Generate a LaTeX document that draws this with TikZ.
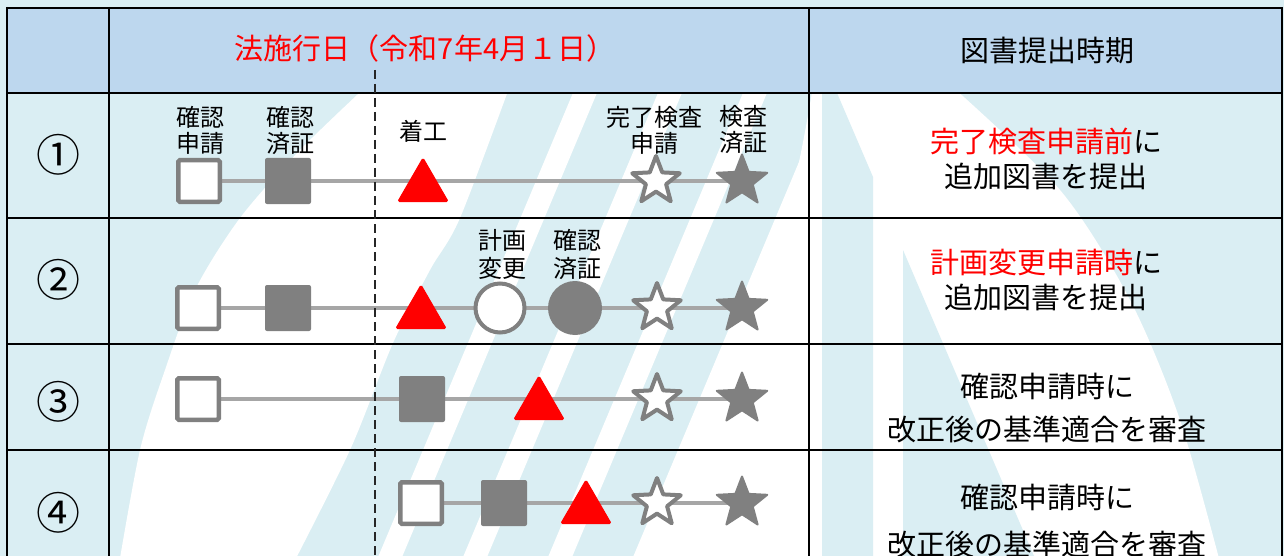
\documentclass[tikz,border=0pt]{standalone}
\usepackage{fontspec}
\setmainfont{Noto Sans CJK JP}
\usetikzlibrary{shapes.geometric}
\definecolor{wmblue}{HTML}{DAEEF3}
\definecolor{hdrblue}{HTML}{BDD7EE}
\definecolor{mk}{HTML}{808080}
\definecolor{ln}{HTML}{A6A6A6}
\pgfdeclarelayer{wm}
\pgfdeclarelayer{conn}
\pgfsetlayers{wm,conn,main}
\begin{document}
\begin{tikzpicture}[x=1pt,y=-1pt,
  osq/.style={rectangle, draw=mk, fill=white, line width=4.5pt, minimum size=41.5pt, inner sep=0pt, rounded corners=1.5pt},
  fsq/.style={rectangle, fill=mk, minimum size=46pt, inner sep=0pt, rounded corners=2pt},
  tri/.style={regular polygon, regular polygon sides=3, fill=red, draw=red, line width=1pt, line join=round, minimum size=58pt, inner sep=0pt, rounded corners=1.5pt},
  ocirc/.style={circle, draw=mk, fill=white, line width=4pt, minimum size=49pt, inner sep=0pt},
  fcirc/.style={circle, fill=mk, minimum size=54pt, inner sep=0pt},
  ostar/.style={star, star points=5, star point ratio=2.35, draw=mk, fill=white, line width=4pt, line join=round, minimum size=50pt, inner sep=0pt},
  fstar/.style={star, star points=5, star point ratio=2.35, fill=mk, draw=mk, line width=2pt, line join=round, minimum size=53pt, inner sep=0pt},
  conn/.style={draw=ln, line width=4pt},
  lbl/.style={font=\fontsize{24}{26}\selectfont, align=center, inner sep=0pt},
  desc/.style={font=\fontsize{29}{35}\selectfont, align=center, inner sep=0pt},
  num/.style={font=\fontsize{44}{44}\selectfont, inner sep=0pt},
  gridline/.style={line width=2pt, black},
  lawline/.style={line width=2pt, black!85, dash pattern=on 9pt off 5pt}
]
\useasboundingbox (0,0) rectangle (1284,556);

% ---------- background watermark ----------
\begin{pgfonlayer}{wm}
\fill[wmblue] (0,0) rectangle (1284,556);
\begin{scope}
\clip (109,93) rectangle (1282,556);
\fill[white] plot[smooth] coordinates {(373,80) (300,150) (240,218) (195,290) (165,370) (140,450) (118,570)}
  -- plot[smooth] coordinates {(290,570) (350,450) (393,343) (430,270) (460,218) (512,80)} -- cycle;
\foreach \s in {360,445,530,615,700}{
  \fill[white] (\s,600) -- ++(24,0) -- ++(231,-550) -- ++(-24,0) -- cycle;
}
\fill[white] plot[smooth] coordinates {(814,80) (790,200) (740,330) (680,450) (640,570)}
  -- plot[smooth] coordinates {(1222,570) (1180,420) (1130,300) (1060,190) (945,80)} -- cycle;
\fill[wmblue] (822,93) -- (837,93) -- (873,177) -- (873,556) -- (822,556) -- cycle;
\fill[wmblue] (903,250) -- (1034,556) -- (903,556) -- cycle;
\end{scope}
\fill[hdrblue] (7,8) rectangle (1282,93);
\end{pgfonlayer}

% ---------- table grid ----------
\foreach \yy in {8,93,218,344,450}{
  \draw[gridline] (6,\yy) -- (1283,\yy);
}
\foreach \xx in {7,109,809,1282}{
  \draw[gridline] (\xx,7) -- (\xx,556);
}

% ---------- header ----------
\node[desc, text=red] (hdr) at (425,48) {法施行日（令和7年4月１日）};
\node[desc] (hdr2) at (1047,51) {図書提出時期};
\coordinate (lawtop) at (375,70);
\coordinate (lawbot) at (375,556);

% ---------- row numbers ----------
\node[num] (n1) at (58,155) {①};
\node[num] (n2) at (58,280) {②};
\node[num] (n3) at (58,402) {③};
\node[num] (n4) at (58,513) {④};

% ---------- row 1 ----------
\node[osq] (a1) at (199,181) {};
\node[fsq] (b1) at (288,181) {};
\node[tri] (c1) at (423,187) {};
\node[ostar] (d1) at (656,181) {};
\node[fstar] (e1) at (742,181) {};
\node[lbl] (la1) at (200,130) {確認\\申請};
\node[lbl] (lb1) at (290,130) {確認\\済証};
\node[lbl] (lc1) at (423,131) {着工};
\node[lbl] (ld1) at (654,130) {完了検査\\申請};
\node[lbl] (le1) at (743,130) {検査\\済証};
\node[desc] (t1) at (1046,159) {{\color{red}完了検査申請前}に\\追加図書を提出};

% ---------- row 2 ----------
\node[osq] (a2) at (198,308) {};
\node[fsq] (b2) at (288,308) {};
\node[tri] (c2) at (421,314) {};
\node[ocirc] (f2) at (500,308) {};
\node[fcirc] (g2) at (575,308) {};
\node[ostar] (d2) at (657,308) {};
\node[fstar] (e2) at (742,308) {};
\node[lbl, font=\fontsize{24}{28}\selectfont] (lf2) at (502,254) {計画\\変更};
\node[lbl, font=\fontsize{24}{28}\selectfont] (lg2) at (577,254) {確認\\済証};
\node[desc] (t2) at (1046,280) {{\color{red}計画変更申請時}に\\追加図書を提出};

% ---------- row 3 ----------
\node[osq] (a3) at (198,399) {};
\node[fsq] (b3) at (422,399) {};
\node[tri] (c3) at (539,405) {};
\node[ostar] (d3) at (657,399) {};
\node[fstar] (e3) at (742,399) {};
\node[desc, font=\fontsize{29}{43}\selectfont] (t3) at (1047,408) {確認申請時に\\改正後の基準適合を審査};

% ---------- row 4 ----------
\node[osq] (a4) at (421,503) {};
\node[fsq] (b4) at (504,503) {};
\node[tri] (c4) at (586,509) {};
\node[ostar] (d4) at (657,503) {};
\node[fstar] (e4) at (742,503) {};
\node[desc, font=\fontsize{29}{47}\selectfont] (t4) at (1047,521) {確認申請時に\\改正後の基準適合を審査};

% ---------- connectors ----------
\begin{pgfonlayer}{conn}
\draw[conn] (a1.center) -- (e1.center);
\draw[conn] (a2.center) -- (e2.center);
\draw[conn] (a3.center) -- (e3.center);
\draw[conn] (a4.center) -- (e4.center);
\end{pgfonlayer}
\draw[lawline] (lawtop) -- (lawbot);
\end{tikzpicture}
\end{document}
